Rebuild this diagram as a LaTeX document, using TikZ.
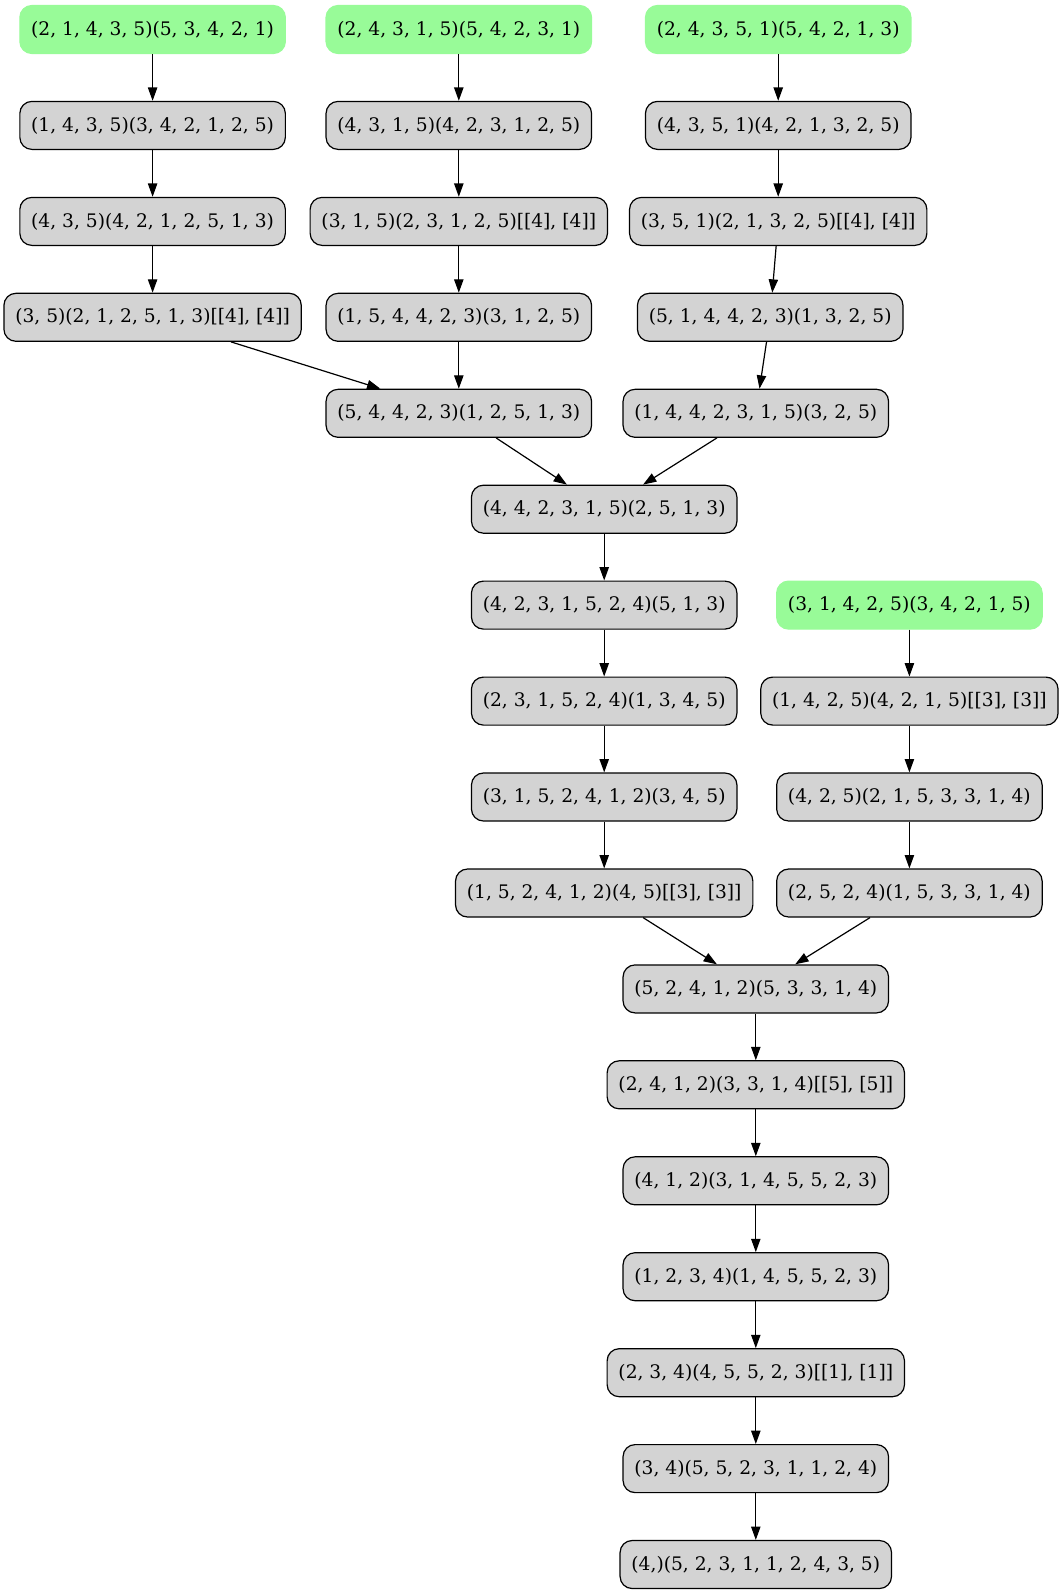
\documentclass[tikz,border=0pt]{standalone}
\usepackage{fontspec}
\setmainfont{DejaVu Serif}
\usetikzlibrary{arrows.meta}
\definecolor{startgreen}{HTML}{98FB98}
\definecolor{stategray}{HTML}{D3D3D3}
\tikzset{
  state/.style={draw=black, fill=stategray, rounded corners=9pt, line width=0.9pt,
    minimum height=36pt, inner xsep=8.5pt, inner ysep=0pt,
    font=\fontsize{14}{16}\selectfont},
  start/.style={state, draw=startgreen, fill=startgreen},
  link/.style={draw=black, line width=0.9pt, -{Triangle[length=10pt,width=7pt]}}
}
\begin{document}
\begin{tikzpicture}[x=0.75pt,y=-0.75pt]
\useasboundingbox (0,0) rectangle (1063,1595);
% left chain
\node[start] (a1) at (152.6,29.5) {(2, 1, 4, 3, 5)(5, 3, 4, 2, 1)};
\node[state] (b1) at (152.6,125.4) {(1, 4, 3, 5)(3, 4, 2, 1, 2, 5)};
\node[state] (c1) at (152.6,221.4) {(4, 3, 5)(4, 2, 1, 2, 5, 1, 3)};
\node[state] (d1) at (152.6,317.3) {(3, 5)(2, 1, 2, 5, 1, 3)[[4], [4]]};
% middle chain
\node[start] (a2) at (458.8,29.5) {(2, 4, 3, 1, 5)(5, 4, 2, 3, 1)};
\node[state] (b2) at (458.8,125.4) {(4, 3, 1, 5)(4, 2, 3, 1, 2, 5)};
\node[state] (c2) at (458.8,221.4) {(3, 1, 5)(2, 3, 1, 2, 5)[[4], [4]]};
\node[state] (d2) at (458.8,317.3) {(1, 5, 4, 4, 2, 3)(3, 1, 2, 5)};
\node[state] (e1) at (458.8,413.3) {(5, 4, 4, 2, 3)(1, 2, 5, 1, 3)};
% right chain
\node[start] (a3) at (778.2,29.5) {(2, 4, 3, 5, 1)(5, 4, 2, 1, 3)};
\node[state] (b3) at (778.2,125.4) {(4, 3, 5, 1)(4, 2, 1, 3, 2, 5)};
\node[state] (c3) at (778.2,221.4) {(3, 5, 1)(2, 1, 3, 2, 5)[[4], [4]]};
\node[state] (d3) at (770.2,317.3) {(5, 1, 4, 4, 2, 3)(1, 3, 2, 5)};
\node[state] (e2) at (755.8,413.3) {(1, 4, 4, 2, 3, 1, 5)(3, 2, 5)};
% merged chain
\node[state] (f1) at (604.2,509.2) {(4, 4, 2, 3, 1, 5)(2, 5, 1, 3)};
\node[state] (f2) at (604.2,605.1) {(4, 2, 3, 1, 5, 2, 4)(5, 1, 3)};
\node[state] (f3) at (604.2,701.1) {(2, 3, 1, 5, 2, 4)(1, 3, 4, 5)};
\node[state] (f4) at (604.2,797.0) {(3, 1, 5, 2, 4, 1, 2)(3, 4, 5)};
\node[state] (f5) at (604.2,893.0) {(1, 5, 2, 4, 1, 2)(4, 5)[[3], [3]]};
% fourth start
\node[start] (h1) at (909.4,605.1) {(3, 1, 4, 2, 5)(3, 4, 2, 1, 5)};
\node[state] (h2) at (909.4,701.1) {(1, 4, 2, 5)(4, 2, 1, 5)[[3], [3]]};
\node[state] (h3) at (909.4,797.0) {(4, 2, 5)(2, 1, 5, 3, 3, 1, 4)};
\node[state] (h4) at (909.4,893.0) {(2, 5, 2, 4)(1, 5, 3, 3, 1, 4)};
% final chain
\node[state] (k1) at (755.8,988.9) {(5, 2, 4, 1, 2)(5, 3, 3, 1, 4)};
\node[state] (k2) at (755.8,1084.8) {(2, 4, 1, 2)(3, 3, 1, 4)[[5], [5]]};
\node[state] (k3) at (755.8,1180.8) {(4, 1, 2)(3, 1, 4, 5, 5, 2, 3)};
\node[state] (k4) at (755.8,1276.7) {(1, 2, 3, 4)(1, 4, 5, 5, 2, 3)};
\node[state] (k5) at (755.8,1372.7) {(2, 3, 4)(4, 5, 5, 2, 3)[[1], [1]]};
\node[state] (k6) at (755.8,1468.6) {(3, 4)(5, 5, 2, 3, 1, 1, 2, 4)};
\node[state] (k7) at (755.8,1564.5) {(4,)(5, 2, 3, 1, 1, 2, 4, 3, 5)};
% edges
\draw[link] (a1) -- (b1);
\draw[link] (b1) -- (c1);
\draw[link] (c1) -- (d1);
\draw[link] (d1) -- (e1);
\draw[link] (a2) -- (b2);
\draw[link] (b2) -- (c2);
\draw[link] (c2) -- (d2);
\draw[link] (d2) -- (e1);
\draw[link] (a3) -- (b3);
\draw[link] (b3) -- (c3);
\draw[link] (c3) -- (d3);
\draw[link] (d3) -- (e2);
\draw[link] (e1) -- (f1);
\draw[link] (e2) -- (f1);
\draw[link] (f1) -- (f2);
\draw[link] (f2) -- (f3);
\draw[link] (f3) -- (f4);
\draw[link] (f4) -- (f5);
\draw[link] (h1) -- (h2);
\draw[link] (h2) -- (h3);
\draw[link] (h3) -- (h4);
\draw[link] (f5) -- (k1);
\draw[link] (h4) -- (k1);
\draw[link] (k1) -- (k2);
\draw[link] (k2) -- (k3);
\draw[link] (k3) -- (k4);
\draw[link] (k4) -- (k5);
\draw[link] (k5) -- (k6);
\draw[link] (k6) -- (k7);
\end{tikzpicture}
\end{document}
